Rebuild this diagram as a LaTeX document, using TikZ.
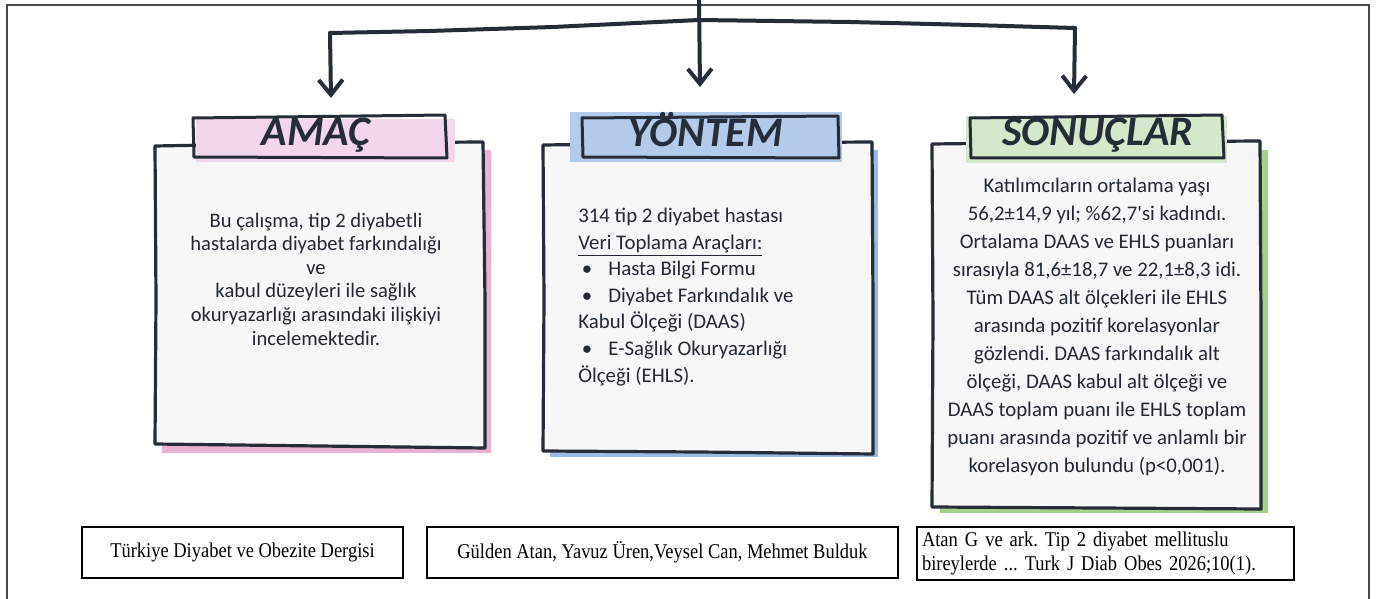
\documentclass[tikz,border=0pt]{standalone}
\usepackage{fontspec}
\setmainfont{Carlito}
\newfontfamily\carlitoraw{Carlito}
\newfontfamily\refserif{Liberation Serif}[FakeStretch=0.88]
\usetikzlibrary{arrows.meta}
\definecolor{ink}{HTML}{262D38}
\definecolor{cardfill}{HTML}{F7F7F7}
\definecolor{pinkF}{HTML}{F1D7E9}
\definecolor{pinkS}{HTML}{E8B2D2}
\definecolor{blueF}{HTML}{B3CAE8}
\definecolor{blueS}{HTML}{9CBBE3}
\definecolor{greenF}{HTML}{D5E8CB}
\definecolor{greenS}{HTML}{A8D08D}
\definecolor{frame}{HTML}{4A4A4A}
\frenchspacing
\begin{document}
\begin{tikzpicture}[x=0.5pt,y=-0.5pt,
  conn/.style={draw=ink,line width=2pt,line cap=round,line join=round},
  tipped/.style={conn,-{Straight Barb[length=7.5pt,width=12pt]}},
  card/.style={fill=cardfill,draw=ink,line width=1.6pt,line join=round},
  tabline/.style={draw=ink,line width=1.5pt,line join=round},
  titletext/.style={font=\fontsize{21}{25}\selectfont\bfseries\itshape,text=ink,anchor=base,inner sep=0pt},
  bodytext/.style={text=ink!90!black,inner sep=0pt},
  refbox/.style={draw=black,line width=0.6pt,fill=white,inner sep=2.5pt,
    font=\refserif\fontsize{10.5}{12}\selectfont}
]
\useasboundingbox (0,0) rectangle (1382,599);
\fill[white] (0,0) rectangle (1382,599);

% outer frame
\draw[frame,line width=1pt] (7,600) -- (7,5) -- (1369,5) -- (1369,600);

% ---------- AMAÇ card ----------
\fill[pinkS] (162,150) rectangle (491,453);
\filldraw[card] (155,146) -- (320,143) -- (483,142) -- (485,300) -- (485,448) -- (320,446) -- (155,444) -- (156,300) -- cycle;
\fill[pinkF] (196,119) rectangle (455,162);
\draw[tabline] (193,118) -- (445,115) -- (447,158) -- (194,157) -- cycle;
\node[titletext] (tA) at (316,146) {AMAÇ};
\node[bodytext,anchor=base,align=center,font=\fontsize{10.3}{11.8}\selectfont] (bA) at (316,345)
 {Bu çalışma, tip 2 diyabetli\\hastalarda diyabet farkındalığı\\ve\\kabul düzeyleri ile sağlık\\okuryazarlığı arasındaki ilişkiyi\\incelemektedir.};

% ---------- YÖNTEM card ----------
\fill[blueS] (550,150) rectangle (878,457);
\filldraw[card] (543,145) -- (700,143) -- (872,142) -- (873,300) -- (873,454) -- (700,452) -- (543,451) -- (544,300) -- cycle;
\fill[blueF] (570,112) rectangle (842,162);
\draw[tabline] (582,118) -- (838,116) -- (839,158) -- (583,157) -- cycle;
\node[titletext] (tY) at (706,147) {YÖNTEM};
\node[bodytext,anchor=base west,align=left,font=\fontsize{10.4}{13.3}\selectfont] (bY) at (578,382)
 {314 tip 2 diyabet hastası\\
  \underline{Veri Toplama Araçları:}\\
  \makebox[15pt][l]{\,•}Hasta Bilgi Formu\\
  \makebox[15pt][l]{\,•}Diyabet Farkındalık ve\\
  Kabul Ölçeği (DAAS)\\
  \makebox[15pt][l]{\,•}E-Sağlık Okuryazarlığı\\
  Ölçeği (EHLS).};

% ---------- SONUÇLAR card ----------
\fill[greenS] (940,150) rectangle (1268,513);
\filldraw[card] (932,144) -- (1100,142) -- (1260,141) -- (1261,320) -- (1261,509) -- (1100,508) -- (932,507) -- (933,320) -- cycle;
\fill[greenF] (966,116) rectangle (1227,163);
\draw[tabline] (970,118) -- (1222,115) -- (1224,158) -- (971,158) -- cycle;
\node[titletext] (tS) at (1098,146) {SONUÇLAR};
\node[bodytext,anchor=base,align=center,font=\fontsize{10.4}{14}\selectfont] (bS) at (1097,472)
 {Katılımcıların ortalama yaşı\\
  56,2±14,9 yıl; \%62,7{\carlitoraw '}si kadındı.\\
  Ortalama DAAS ve EHLS puanları\\
  sırasıyla 81,6±18,7 ve 22,1±8,3 idi.\\
  Tüm DAAS alt ölçekleri ile EHLS\\
  arasında pozitif korelasyonlar\\
  gözlendi. DAAS farkındalık alt\\
  ölçeği, DAAS kabul alt ölçeği ve\\
  DAAS toplam puanı ile EHLS toplam\\
  puanı arasında pozitif ve anlamlı bir\\
  korelasyon bulundu (p<0,001).};

% ---------- connectors ----------
\coordinate (top) at (699,-2);
\coordinate (j) at (699,20);
\coordinate (cL) at (330,33);
\coordinate (cR) at (1075,28);
\coordinate (aA) at (331,98);
\coordinate (aY) at (700,87);
\coordinate (aS) at (1074,94);
\draw[conn] (cL) -- (429,31) -- (553,27) -- (j) -- (850,22) -- (971,25) -- (cR);
\draw[tipped] (cL) -- (aA);
\draw[tipped] (top) -- (aY);
\draw[tipped] (cR) -- (aS);

% ---------- reference boxes ----------
\node[refbox,minimum width=160.5pt,minimum height=25.5pt] (r1) at (242.5,552.5) {Türkiye Diyabet ve Obezite Dergisi};
\node[refbox,minimum width=235.5pt,minimum height=25.5pt] (r2) at (662.5,552.5) {Gülden Atan, Yavuz Üren,Veysel Can, Mehmet Bulduk};
\node[refbox,minimum width=188.5pt,minimum height=25.5pt,text width=183.5pt,align=left] (r3) at (1105.5,553.5) {Atan G ve ark. Tip 2 diyabet mellituslu\\bireylerde ... Turk J Diab Obes 2026;10(1).};
\end{tikzpicture}
\end{document}
